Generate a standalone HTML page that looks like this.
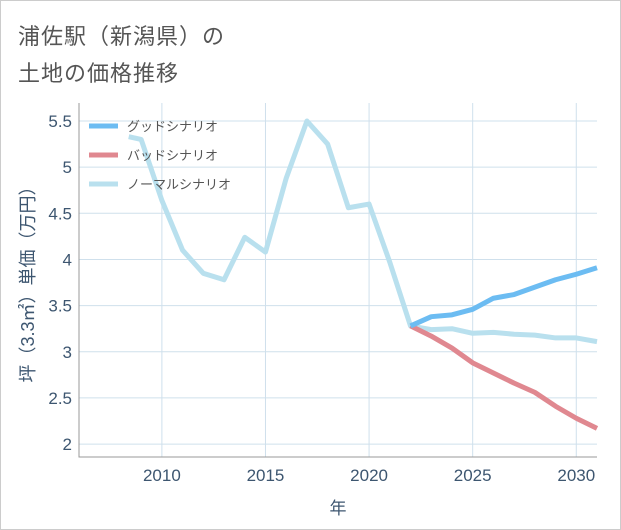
<!DOCTYPE html>
<html><head><meta charset="utf-8"><style>
body{margin:0;background:#fff;font-family:"Liberation Sans","Noto Sans CJK JP",sans-serif;}
#wrap{position:relative;width:619px;height:528px;border:1px solid #ccc;background:#fff;}
.title{position:absolute;left:17px;font-size:22px;color:#555;letter-spacing:1px;}
</style></head><body>
<div id="wrap">
<div class="title" style="top:18px">浦佐駅（新潟県）の</div>
<div class="title" style="top:55px">土地の価格推移</div>
<svg id="chart" width="621" height="530" style="position:absolute;left:-1px;top:-1px"></svg>
</div>
<script>
const normalYears=[2008.4,2009,2010,2011,2012,2013,2014,2015,2016,2017,2018,2019,2020,2021,2022,2023,2024,2025,2026,2027,2028,2029,2030,2031];
const normalVals=[5.33,5.3,4.64,4.1,3.85,3.78,4.24,4.08,4.88,5.5,5.25,4.56,4.6,3.97,3.28,3.24,3.25,3.2,3.21,3.19,3.18,3.15,3.15,3.11];
const futureYears=[2022,2023,2024,2025,2026,2027,2028,2029,2030,2031];
const goodVals=[3.28,3.38,3.4,3.46,3.58,3.62,3.7,3.78,3.84,3.91];
const badVals=[3.28,3.17,3.04,2.88,2.77,2.66,2.56,2.41,2.28,2.17];
const xTicks=[2010,2015,2020,2025,2030];
const yTicks=[2,2.5,3,3.5,4,4.5,5,5.5];
const yTickLabels=["2","2.5","3","3.5","4","4.5","5","5.5"];
const L=79,R=597,T=103,B=457,x0=2006,x1=2031,y0=1.86,y1=5.695;
const X=v=>L+(v-x0)/(x1-x0)*(R-L), Y=v=>B-(v-y0)/(y1-y0)*(B-T);
const svg=document.getElementById('chart');const NS='http://www.w3.org/2000/svg';
function mk(t,a,p){const e=document.createElementNS(NS,t);for(const k in a)e.setAttribute(k,a[k]);(p||svg).appendChild(e);return e;}
xTicks.forEach(t=>{const g=mk('line',{x1:X(t),x2:X(t),y1:T,y2:B,stroke:'#cfe0ec','stroke-width':1});

const l=mk('text',{x:X(t),y:B+24,'text-anchor':'middle','font-size':17,fill:'#3d5670'});l.textContent=t;
});
yTicks.forEach((t,i)=>{const g=mk('line',{x1:L,x2:R,y1:Y(t),y2:Y(t),stroke:'#cfe0ec','stroke-width':1});

const l=mk('text',{x:L-7,y:Y(t)+6,'text-anchor':'end','font-size':17,fill:'#3d5670'});l.textContent=yTickLabels[i];
});
const ax=mk('path',{d:`M${L} ${T}V${B}H${R}`,fill:'none',stroke:'#999','stroke-width':1});

function line(xs,ys,c,n){const p=mk('polyline',{points:xs.map((x,i)=>X(x)+','+Y(ys[i])).join(' '),fill:'none',stroke:c,'stroke-width':5,'stroke-linejoin':'round'});
}
line(normalYears,normalVals,'#b9e0ee','normal-scenario-line');
line(futureYears,badVals,'#e08890','bad-scenario-line');
line(futureYears,goodVals,'#6cbcf2','good-scenario-line');
const leg=[['グッドシナリオ','#6cbcf2'],['バッドシナリオ','#e08890'],['ノーマルシナリオ','#b9e0ee']];
leg.forEach((d,i)=>{const y=126+i*29;
const s=mk('line',{x1:89,x2:118,y1:y,y2:y,stroke:d[1],'stroke-width':5});

const t=mk('text',{x:127,y:y+5,'font-size':13,fill:'#555'});t.textContent=d[0];
});
const yt=mk('text',{transform:'translate(34,280) rotate(-90)','text-anchor':'middle','font-size':18,fill:'#3d5670'});yt.textContent='坪（3.3㎡）単価（万円）';

const xt=mk('text',{x:(L+R)/2,y:514,'text-anchor':'middle','font-size':17,fill:'#3d5670'});xt.textContent='年';

</script>
</body></html>
